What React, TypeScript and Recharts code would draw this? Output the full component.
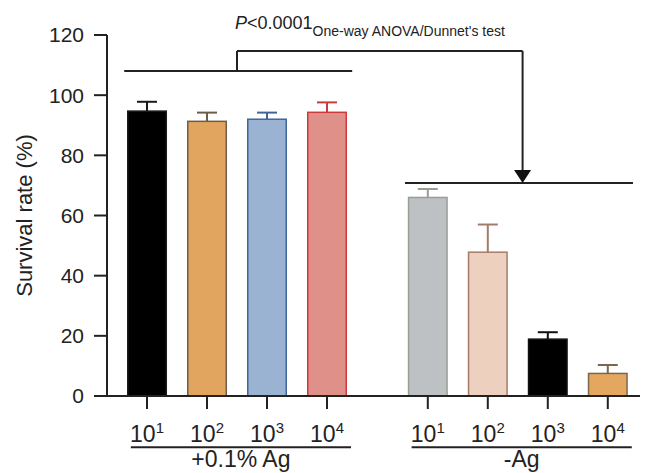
import React from "react";
import {
  ComposedChart,
  Bar,
  Cell,
  XAxis,
  YAxis,
  ReferenceLine,
  ReferenceDot,
} from "recharts";

// ---------- data ----------
const GROUP_NAMES = ["+0.1% Ag", "-Ag"];
const DOSE_BASE = "10";
const DOSE_EXPONENTS = ["1", "2", "3", "4"];
const AG_MEAN = [94.7, 91.3, 92.0, 94.3];
const AG_SD = [3.1, 2.9, 2.2, 3.3];
const NO_AG_MEAN = [66.0, 47.8, 18.9, 7.5];
const NO_AG_SD = [2.8, 9.2, 2.3, 2.8];
const Y_TICKS = [0, 20, 40, 60, 80, 100, 120];
const Y_LABEL = "Survival rate (%)";
const P_LETTER = "P";
const P_VALUE_TEXT = "<0.0001";
const TEST_TEXT = "One-way ANOVA/Dunnet's test";
// significance bracket levels (in y-axis units)
const LEVEL_GROUP_A = 108;
const LEVEL_TOP = 114.7;
const LEVEL_GROUP_B = 70.8;
const LEVEL_ARROW_TOP = 75.1;
const LEVEL_UNDERLINE = -17;

// ---------- styles / layout ----------
const FILLS = ["#000000", "#E2A55F", "#9AB3D3", "#DE9089", "#BDC1C4", "#EED0BF", "#000000", "#E4A75F"];
const STROKES = ["#1a1a1a", "#6e5c48", "#3f6799", "#cc3b3b", "#9b9c94", "#a57a68", "#111111", "#7d6650"];
const FONT = "'Liberation Sans', Arial, Helvetica, sans-serif";
const INK = "#222";
const GROUP_GAP = 0.68;
const X_DOMAIN: [number, number] = [-0.667, 8.217];
const LINE_EXT_LEFT = 0.38;
const LINE_EXT_RIGHT = 0.42;
const UL_LEFT = 0.27;
const UL_RIGHT = 0.4;

const rows = [
  ...AG_MEAN.map((m, i) => ({ pos: i, mean: m, sd: AG_SD[i], exp: DOSE_EXPONENTS[i] })),
  ...NO_AG_MEAN.map((m, i) => ({ pos: 4 + i + GROUP_GAP, mean: m, sd: NO_AG_SD[i], exp: DOSE_EXPONENTS[i] })),
];

const aStart = rows[0].pos;
const aEnd = rows[3].pos;
const bStart = rows[4].pos;
const bEnd = rows[7].pos;
const aCenter = (aStart + aEnd) / 2;
const bCenter = (bStart + bEnd) / 2;
const arrowX = bCenter + 0.08;

const BarShape = (p: any) => {
  const { x, y, width, height, fill, stroke, payload } = p;
  const k = payload.mean ? height / payload.mean : 0;
  const ey = y - payload.sd * k;
  const cx = x + width / 2;
  return (
    <g>
      <line x1={cx} x2={cx} y1={y} y2={ey} stroke={stroke} strokeWidth={2} />
      <line x1={cx - 10} x2={cx + 10} y1={ey} y2={ey} stroke={stroke} strokeWidth={2} />
      <rect x={x + 0.75} y={y} width={width - 1.5} height={height} fill={fill} stroke={stroke} strokeWidth={1.5} />
    </g>
  );
};

const DoseTick = (props: any) => {
  const { x, y, payload } = props;
  const row = rows.find((r) => Math.abs(r.pos - payload.value) < 1e-6);
  return (
    <text x={x} y={y + 31} textAnchor="middle" fontSize={23} fill={INK} fontFamily={FONT}>
      <tspan>{DOSE_BASE}</tspan>
      <tspan dy={-9} fontSize={15}>{row ? row.exp : ""}</tspan>
    </text>
  );
};

const YLabel = (props: any) => {
  const vb = props.viewBox || { x: 0, y: 35, width: 107, height: 361 };
  const cx = vb.x + 24;
  const cy = vb.y + vb.height / 2;
  return (
    <text
      x={cx}
      y={cy}
      transform={`rotate(-90 ${cx} ${cy})`}
      textAnchor="middle"
      dominantBaseline="central"
      fontSize={22}
      fill={INK}
      fontFamily={FONT}
    >
      {Y_LABEL}
    </text>
  );
};

const PText = (p: any) => (
  <text x={p.cx - 2} y={p.cy - 22} fontSize={18} fill={INK} fontFamily={FONT}>
    <tspan fontStyle="italic">{P_LETTER}</tspan>
    <tspan>{P_VALUE_TEXT}</tspan>
    <tspan dy={7} fontSize={14}>{TEST_TEXT}</tspan>
  </text>
);

const Arrow = (p: any) => (
  <polygon
    points={`${p.cx},${p.cy} ${p.cx - 8.5},${p.cy - 13} ${p.cx + 8.5},${p.cy - 13}`}
    fill="#111"
  />
);

const groupLabel = (name: string) => (p: any) => (
  <text x={p.cx} y={p.cy + 20} textAnchor="middle" fontSize={23} fill={INK} fontFamily={FONT}>
    {name}
  </text>
);

const lineProps = { stroke: INK, strokeWidth: 2, ifOverflow: "visible" as const };

export default function App() {
  return (
    <div style={{ position: "absolute", left: 0, top: 0, background: "#fff" }}>
      <ComposedChart
        width={645}
        height={473}
        data={rows}
        margin={{ top: 35, right: 5, bottom: 17, left: 0 }}
      >
        <XAxis
          dataKey="pos"
          type="number"
          domain={X_DOMAIN}
          allowDataOverflow
          ticks={rows.map((r) => r.pos)}
          interval={0}
          tickSize={13}
          height={60}
          axisLine={{ stroke: INK, strokeWidth: 2 }}
          tickLine={{ stroke: INK, strokeWidth: 2 }}
          tick={<DoseTick />}
        />
        <YAxis
          type="number"
          domain={[0, 120]}
          ticks={Y_TICKS}
          interval={0}
          width={107}
          tickSize={13}
          tickMargin={10}
          axisLine={{ stroke: INK, strokeWidth: 2 }}
          tickLine={{ stroke: INK, strokeWidth: 2 }}
          tick={{ fontSize: 21, fill: INK, fontFamily: FONT }}
          label={<YLabel />}
        />
        <Bar dataKey="mean" barSize={40} isAnimationActive={false} shape={<BarShape />}>
          {rows.map((r, i) => (
            <Cell key={i} fill={FILLS[i]} stroke={STROKES[i]} />
          ))}
        </Bar>

        {/* significance bracket */}
        <ReferenceLine {...lineProps} segment={[{ x: aStart - LINE_EXT_LEFT, y: LEVEL_GROUP_A }, { x: aEnd + LINE_EXT_RIGHT, y: LEVEL_GROUP_A }]} />
        <ReferenceLine {...lineProps} segment={[{ x: aCenter, y: LEVEL_GROUP_A }, { x: aCenter, y: LEVEL_TOP }]} />
        <ReferenceLine {...lineProps} segment={[{ x: aCenter, y: LEVEL_TOP }, { x: arrowX, y: LEVEL_TOP }]} />
        <ReferenceLine {...lineProps} segment={[{ x: arrowX, y: LEVEL_TOP }, { x: arrowX, y: LEVEL_ARROW_TOP }]} />
        <ReferenceLine {...lineProps} segment={[{ x: bStart - LINE_EXT_LEFT, y: LEVEL_GROUP_B }, { x: bEnd + LINE_EXT_RIGHT, y: LEVEL_GROUP_B }]} />
        <ReferenceDot x={arrowX} y={LEVEL_GROUP_B} ifOverflow="visible" shape={<Arrow />} />
        <ReferenceDot x={aCenter} y={LEVEL_TOP} ifOverflow="visible" shape={<PText />} />

        {/* group underlines and names */}
        <ReferenceLine {...lineProps} segment={[{ x: aStart - UL_LEFT, y: LEVEL_UNDERLINE }, { x: aEnd + UL_RIGHT, y: LEVEL_UNDERLINE }]} />
        <ReferenceLine {...lineProps} segment={[{ x: bStart - UL_LEFT, y: LEVEL_UNDERLINE }, { x: bEnd + UL_RIGHT, y: LEVEL_UNDERLINE }]} />
        <ReferenceDot
          x={(aStart - UL_LEFT + aEnd + UL_RIGHT) / 2}
          y={LEVEL_UNDERLINE}
          ifOverflow="visible"
          shape={groupLabel(GROUP_NAMES[0])}
        />
        <ReferenceDot
          x={(bStart - UL_LEFT + bEnd + UL_RIGHT) / 2}
          y={LEVEL_UNDERLINE}
          ifOverflow="visible"
          shape={groupLabel(GROUP_NAMES[1])}
        />
      </ComposedChart>
    </div>
  );
}
